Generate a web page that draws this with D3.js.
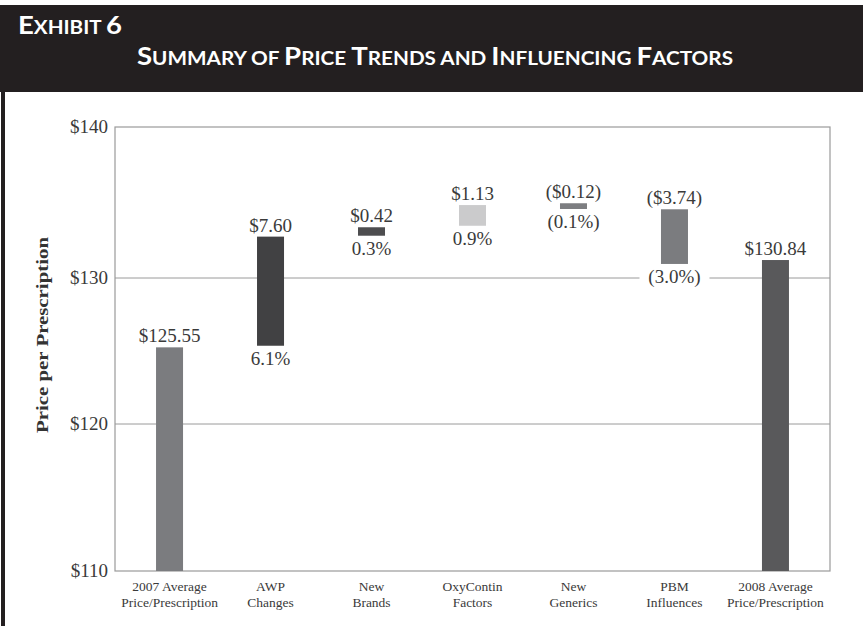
<!DOCTYPE html>
<html>
<head>
<meta charset="utf-8">
<script src="https://cdn.jsdelivr.net/npm/d3@7"></script>
<style>
  html, body { margin: 0; padding: 0; background: #fff; }
  svg { display: block; }
</style>
</head>
<body>
<svg id="chart" width="863" height="626"></svg>
<script>
// ---- data ----
const categories = [
  "2007 Average\nPrice/Prescription",
  "AWP\nChanges",
  "New\nBrands",
  "OxyContin\nFactors",
  "New\nGenerics",
  "PBM\nInfluences",
  "2008 Average\nPrice/Prescription"
];
// bar extents (dollars) as drawn in the exhibit
const barLow  = [110.00, 125.36, 132.80, 133.46, 134.57, 130.93, 110.00];
const barHigh = [125.25, 132.74, 133.36, 134.83, 134.95, 134.55, 131.19];
const valueLabels = ["$125.55", "$7.60", "$0.42", "$1.13", "($0.12)", "($3.74)", "$130.84"];
const pctLabels   = ["", "6.1%", "0.3%", "0.9%", "(0.1%)", "(3.0%)", ""];
const barColors   = ["#7b7c7f", "#414143", "#4d4d4f", "#cbcbcc", "#7d7e81", "#7b7c7f", "#59595b"];
const yTicks = [110, 120, 130, 140];
const yTickLabels = ["$110", "$120", "$130", "$140"];
const exhibitLabel = "Exhibit 6";
const titleText = "Summary of Price Trends and Influencing Factors";
const yTitle = "Price per Prescription";

// ---- layout ----
const svg = d3.select("#chart");
const W = 863, H = 626;
const plot = { left: 115, right: 830, top: 127, bottom: 571 };

// header
svg.append("rect").attr("x", 0).attr("y", 5).attr("width", W).attr("height", 87)
  .attr("fill", "#231f20");
// left border
svg.append("rect").attr("x", 1).attr("y", 92).attr("width", 4).attr("height", H - 92)
  .attr("fill", "#231f20");

function smallCaps(sel, text, big, small) {
  const runs = [];
  for (const ch of text) {
    const isBig = /[A-Z0-9]/.test(ch);
    if (runs.length && runs[runs.length - 1].big === isBig) runs[runs.length - 1].t += ch;
    else runs.push({ big: isBig, t: ch });
  }
  runs.forEach(r => {
    sel.append("tspan").attr("font-size", r.big ? big : small).text(r.t.toUpperCase());
  });
}

const hdrFont = "Lato, 'Open Sans', 'DejaVu Sans', sans-serif";
const ex = svg.append("text").attr("x", 18).attr("y", 34)
  .attr("fill", "#fff").attr("font-family", hdrFont).attr("font-weight", 700)
  .attr("textLength", 104).attr("lengthAdjust", "spacingAndGlyphs");
smallCaps(ex, exhibitLabel, 24, 18);

const tt = svg.append("text").attr("x", 137).attr("y", 65)
  .attr("fill", "#fff").attr("font-family", hdrFont).attr("font-weight", 700)
  .attr("textLength", 596).attr("lengthAdjust", "spacingAndGlyphs");
smallCaps(tt, titleText, 24, 18);

// scales
const x = d3.scalePoint().domain(categories).range([plot.left, plot.right]).padding(0.54);
const y = d3.scaleLinear().domain([110, 120, 130, 140]).range([plot.bottom, 424, 278, plot.top]);
const barW = 27;

const serif = "'Liberation Serif', 'DejaVu Serif', serif";

// gridlines
svg.append("g").selectAll("line").data(yTicks.filter(t => t > 110 && t < 140)).join("line")
  .attr("x1", plot.left).attr("x2", plot.right)
  .attr("y1", d => y(d)).attr("y2", d => y(d))
  .attr("stroke", "#9a9a9a").attr("stroke-width", 1);

// frame
svg.append("rect").attr("x", plot.left).attr("y", plot.top)
  .attr("width", plot.right - plot.left).attr("height", plot.bottom - plot.top)
  .attr("fill", "none").attr("stroke", "#9a9a9a").attr("stroke-width", 1.2);

// y axis labels
const yAxis = d3.axisLeft(y).tickValues(yTicks).tickSize(0).tickPadding(7)
  .tickFormat((d, i) => yTickLabels[i]);
const gy = svg.append("g").attr("transform", `translate(${plot.left},0)`).call(yAxis);
gy.select(".domain").remove();
gy.selectAll("text").attr("font-family", serif).attr("font-size", 19)
  .attr("fill", "#3a3a3a").attr("dy", "0.3em");

// y title
svg.append("text")
  .attr("transform", `translate(48,335) rotate(-90)`)
  .attr("text-anchor", "middle")
  .attr("font-family", serif).attr("font-weight", 700).attr("font-size", 16.5)
  .attr("fill", "#333")
  .attr("textLength", 196).attr("lengthAdjust", "spacingAndGlyphs")
  .text(yTitle);

// bars
const idx = d3.range(categories.length);
svg.append("g").selectAll("rect").data(idx).join("rect")
  .attr("x", i => x(categories[i]) - barW / 2)
  .attr("width", barW)
  .attr("y", i => y(barHigh[i]))
  .attr("height", i => y(barLow[i]) - y(barHigh[i]))
  .attr("fill", i => barColors[i]);

// value labels above bars
svg.append("g").selectAll("text").data(idx).join("text")
  .attr("x", i => x(categories[i]))
  .attr("y", i => y(barHigh[i]) - 5)
  .attr("text-anchor", "middle")
  .attr("font-family", serif).attr("font-size", 19).attr("fill", "#3a3a3a")
  .text(i => valueLabels[i]);

// percent labels below bars (with white backing over gridlines)
const pg = svg.append("g").selectAll("g").data(idx.filter(i => pctLabels[i])).join("g")
  .attr("transform", i => `translate(${x(categories[i])},${y(barLow[i]) + 19})`);
pg.append("rect")
  .attr("x", -35).attr("width", 70).attr("y", -15).attr("height", 20)
  .attr("fill", "#fff");
pg.append("text")
  .attr("text-anchor", "middle")
  .attr("font-family", serif).attr("font-size", 19).attr("fill", "#3a3a3a")
  .text(i => pctLabels[i]);

// x labels
const xl = svg.append("g").selectAll("text").data(categories).join("text")
  .attr("x", d => x(d))
  .attr("y", 591)
  .attr("text-anchor", "middle")
  .attr("font-family", serif).attr("font-size", 13.5).attr("fill", "#3a3a3a");
xl.each(function(d) {
  const lines = d.split("\n");
  d3.select(this).selectAll("tspan").data(lines).join("tspan")
    .attr("x", x(d)).attr("dy", (l, j) => j === 0 ? 0 : 15.5).text(l => l);
});
</script>
</body>
</html>
